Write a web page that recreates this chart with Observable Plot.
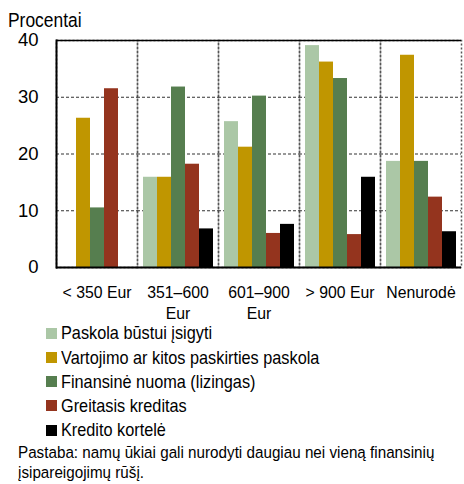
<!DOCTYPE html>
<html><head><meta charset="utf-8">
<script src="https://cdn.jsdelivr.net/npm/d3@7"></script>
<script src="https://cdn.jsdelivr.net/npm/@observablehq/plot@0.6"></script>
<style>
body{margin:0;background:#fff;}
#wrap{position:relative;width:464px;height:484px;overflow:hidden;color:#000;font-family:"Liberation Sans",Arial,sans-serif;}
#wrap svg{position:absolute;left:0;top:0;}
.ylabel{position:absolute;left:7.5px;top:10px;font-size:20.5px;line-height:20.5px;white-space:nowrap;transform:scaleX(0.85);transform-origin:left center;}
.legend{position:absolute;left:46px;top:321.3px;}
.row{display:flex;align-items:center;height:24.2px;font-size:17.7px;white-space:nowrap;}
.row .t{display:inline-block;line-height:16px;transform:scaleX(0.92);transform-origin:left center;}
.sw{width:11px;height:11px;margin-right:4px;flex:none;}
.note{position:absolute;left:18px;top:441.8px;font-size:16.3px;line-height:20.5px;white-space:nowrap;transform:scaleX(0.935);transform-origin:left top;}
</style></head><body><div id="wrap"></div><script>
const categories = ["< 350 Eur", "351–600 Eur", "601–900 Eur", "> 900 Eur", "Nenurodė"];
const xLabels = ["< 350 Eur", "351–600\nEur", "601–900\nEur", "> 900 Eur", "Nenurodė"];
const series = ["Paskola būstui įsigyti", "Vartojimo ar kitos paskirties paskola", "Finansinė nuoma (lizingas)", "Greitasis kreditas", "Kredito kortelė"];
const colors = ["#abc7a6", "#c09600", "#567e4f", "#94341e", "#000000"];
const paskola   = [null, 15.9, 25.7, 39.1, 18.7];
const vartojimo = [26.3, 15.9, 21.2, 36.2, 37.4];
const lizingas  = [10.5, 31.8, 30.2, 33.3, 18.7];
const greitasis = [31.5, 18.2, 6.0, 5.8, 12.4];
const kortele   = [null, 6.8, 7.6, 15.9, 6.3];
const yTicks = [0, 10, 20, 30, 40];
const gridValues = [10, 20, 30];
const yLabel = "Procentai";
const noteLines = ["Pastaba: namų ūkiai gali nurodyti daugiau nei vieną finansinių", "įsipareigojimų rūšį."];

const values = [paskola, vartojimo, lizingas, greitasis, kortele];
const data = [];
categories.forEach((c, i) => series.forEach((s, j) => {
  const v = values[j][i];
  if (v != null) data.push({category: c, series: s, value: v});
}));

const chart = Plot.plot({
  width: 464, height: 322,
  marginLeft: 56, marginRight: 3, marginTop: 40, marginBottom: 55,
  style: {fontFamily: "'Liberation Sans', Arial, sans-serif", fontSize: "18.5px", background: "transparent", overflow: "visible", color: "#000"},
  fx: {domain: categories, padding: 0, axis: null},
  x: {domain: series, paddingInner: 0, paddingOuter: 0.2, axis: null},
  y: {domain: [0, 40], ticks: yTicks, tickSize: 0, tickPadding: 18, label: null},
  color: {domain: series, range: colors},
  marks: [
    Plot.frame({stroke: "#555", strokeDasharray: "2,2", strokeWidth: 1.5}),
    Plot.ruleY(gridValues, {stroke: "#333", strokeDasharray: "3,2", strokeWidth: 1.2}),
    Plot.barY(data, {fx: "category", x: "series", y: "value", fill: "series"}),
    Plot.ruleY([0], {stroke: "black", strokeWidth: 2}),
    Plot.ruleY([40], {stroke: "black", strokeWidth: 1.5}),
    Plot.frame({anchor: "left", stroke: "black", strokeWidth: 2, fx: () => categories[0]}),
    Plot.text(categories, {fx: d => d, text: d => xLabels[categories.indexOf(d)], frameAnchor: "bottom", lineAnchor: "top", dy: 16, fontSize: 15.8, lineHeight: 1.33})
  ]
});

const wrap = document.getElementById("wrap");
wrap.appendChild(chart);
const yl = document.createElement("div");
yl.className = "ylabel"; yl.textContent = yLabel;
wrap.appendChild(yl);
const legend = document.createElement("div");
legend.className = "legend";
series.forEach((s, j) => {
  const row = document.createElement("div"); row.className = "row";
  const sw = document.createElement("span"); sw.className = "sw"; sw.style.background = colors[j];
  const t = document.createElement("span"); t.className = "t"; t.textContent = s;
  row.appendChild(sw); row.appendChild(t); legend.appendChild(row);
});
wrap.appendChild(legend);
const note = document.createElement("div");
note.className = "note";
note.innerHTML = noteLines.map(l => l.replace(/&/g, "&amp;").replace(/</g, "&lt;")).join("<br>");
wrap.appendChild(note);
</script></body></html>
